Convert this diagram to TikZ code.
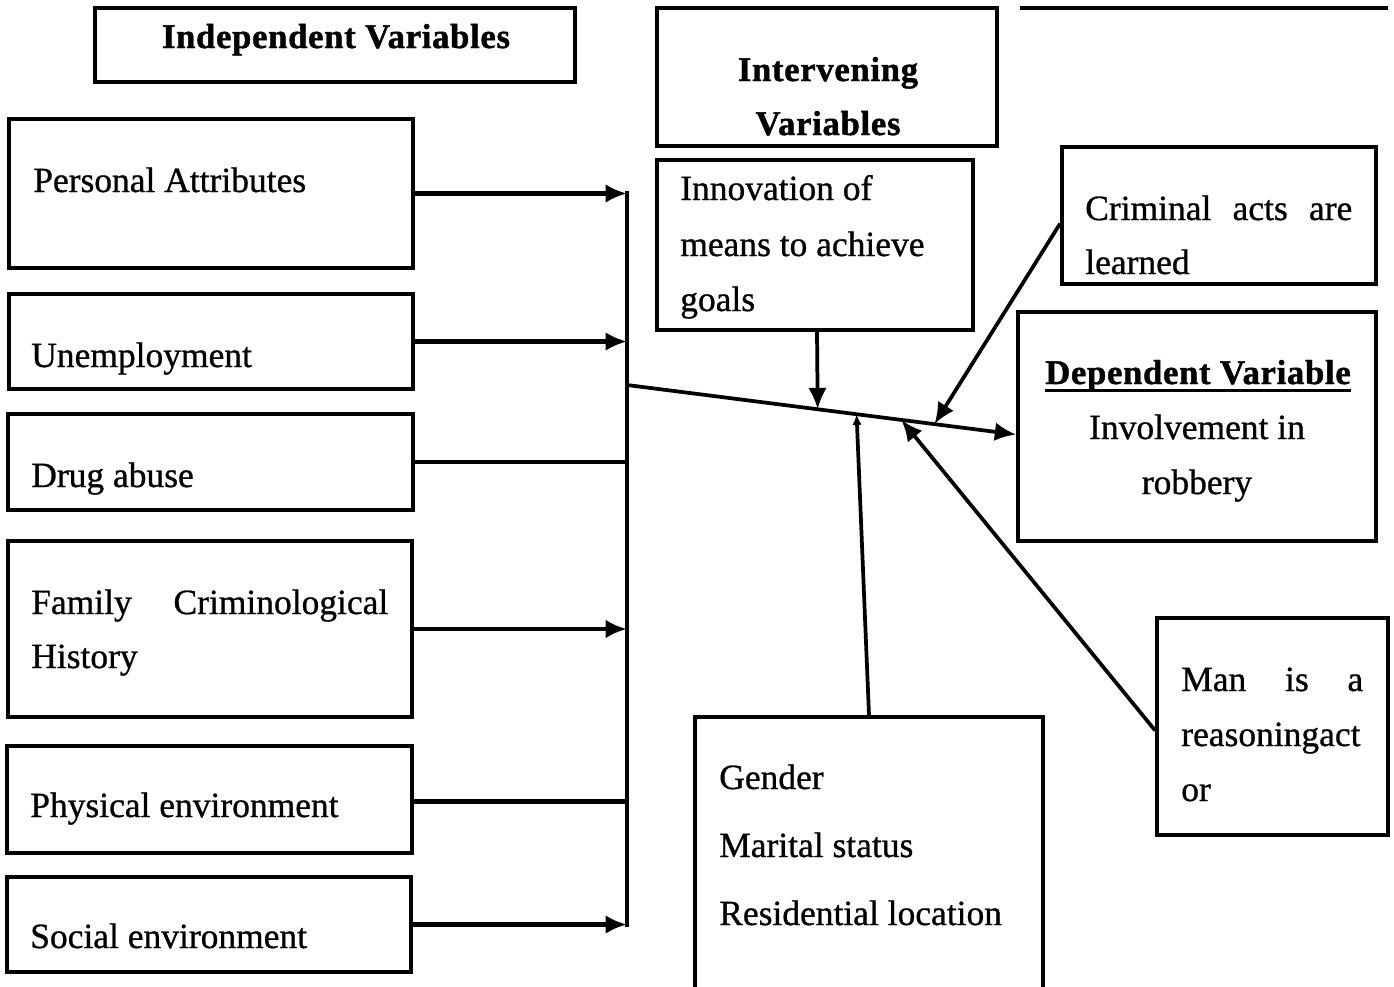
\documentclass[tikz,border=0pt]{standalone}
\usepackage{fontspec}
\setmainfont{Liberation Serif}[FakeBold=0.8]
\newfontfamily\hdfont{Liberation Serif}[FakeBold=1.2, LetterSpace=2]
\usetikzlibrary{arrows.meta,calc,fit}
\begin{document}
\begin{tikzpicture}[x=0.75pt,y=-0.75pt,
  box/.style={draw,line width=2.8pt,rectangle,inner sep=0pt},
  txt/.style={anchor=base west,inner sep=0pt,font=\fontsize{26.6}{32}\selectfont},
  ctxt/.style={anchor=base,inner sep=0pt,font=\fontsize{26.6}{32}\selectfont},
  hd/.style={anchor=base,inner sep=0pt,font=\hdfont\fontsize{26}{32}\selectfont\bfseries},
  conn/.style={line width=3.2pt,-{Latex[length=16pt,width=14pt]}},
  plain/.style={line width=3.2pt},
  ]
\useasboundingbox (0,0) rectangle (1394,986);

% boxes
\node[box,fit={(95,8) (575,82)}] (indH) {};
\node[box,fit={(657,8) (997,146)}] (intH) {};
\node[box,fit={(9,119) (413,268)}] (pa) {};
\node[box,fit={(9,294) (413,389)}] (un) {};
\node[box,fit={(8,414) (413,510)}] (da) {};
\node[box,fit={(8,541) (412,717)}] (fc) {};
\node[box,fit={(7,746) (412,853)}] (pe) {};
\node[box,fit={(7,877) (411,972)}] (se) {};
\node[box,fit={(657,160) (973,330)}] (inn) {};
\node[box,fit={(1062,147) (1376,284)}] (cr) {};
\node[box,fit={(1018,312) (1376,541)}] (dep) {};
\node[box,fit={(1157,618) (1388,835)}] (man) {};
\node[box,fit={(695,717) (1043,994)}] (gen) {};
\draw[line width=3pt] (1020,8) coordinate (tl) -- (1388,8) coordinate (tr);

% texts
\node[hd] (indT) at (336,48) {Independent Variables};
\node[hd] (intT1) at (828,81) {Intervening};
\node[hd] (intT2) at (828,135) {Variables};
\node[txt] (paT) at (33,192) {Personal Attributes};
\node[txt] (unT) at (31,367) {Unemployment};
\node[txt] (daT) at (31,487) {Drug abuse};
\node[txt] (fcT1) at (31,614) {\makebox[267.75pt][s]{Family Criminological}};
\node[txt] (fcT2) at (31,668) {History};
\node[txt] (peT) at (30,817) {Physical environment};
\node[txt] (seT) at (30,948) {Social environment};
\node[txt] (innT1) at (680,200) {Innovation of};
\node[txt] (innT2) at (680,256) {means to achieve};
\node[txt] (innT3) at (680,311) {goals};
\node[txt] (crT1) at (1085,220) {\makebox[200.25pt][s]{Criminal acts are}};
\node[txt] (crT2) at (1085,274) {learned};
\node[hd] (depT1) at (1198,384) {Dependent Variable};
\draw[line width=2pt] ([yshift=-5pt]depT1.base west) -- ([yshift=-5pt]depT1.base east);
\node[ctxt] (depT2) at (1197,439) {Involvement in};
\node[ctxt] (depT3) at (1197,494) {robbery};
\node[txt] (manT1) at (1181,691) {\makebox[136.5pt][s]{Man is a}};
\node[txt] (manT2) at (1181,746) {reasoningact};
\node[txt] (manT3) at (1181,801) {or};
\node[txt] (genT1) at (719,789) {Gender};
\node[txt] (genT2) at (719,857) {Marital status};
\node[txt] (genT3) at (719,925) {Residential location};

% collecting bar
\coordinate (bartop) at (627,191);
\coordinate (barbot) at (627,927);
\coordinate (hub) at (627,385);
\draw[plain] (bartop) -- (barbot);

\draw[conn] (pa.east) -- (pa.east -| bartop);
\draw[conn] (un.east) -- (un.east -| bartop);
\draw[plain] (da.east) -- (da.east -| bartop);
\draw[conn] (fc.east) -- (fc.east -| bartop);
\draw[plain] ([yshift=-1.5pt]pe.east) -- ([yshift=-1.5pt]pe.east -| bartop);
\draw[conn] (se.east) -- (se.east -| bartop);

% main line
\coordinate (depw) at ([yshift=-6pt]dep.west);
\draw[conn,line width=2.8pt] (hub) -- (depw);
\coordinate (j1) at ($(hub)!0.49!(depw)$);
\coordinate (j2) at ($(hub)!0.59!(depw)$);
\coordinate (j3) at ($(hub)!0.705!(depw)$);
\coordinate (j4) at ($(hub)!0.79!(depw)$);

\draw[conn,line width=2.8pt] ([xshift=1.5pt]inn.south) -- (j1);
\draw[conn,line width=2.8pt,-{Latex[length=8pt,width=7pt]}] (gen.north) -- (j2);
\draw[conn,line width=2.8pt] ([yshift=-3pt]man.west) -- (j3);
\draw[conn,line width=2.8pt] ([yshift=-6pt]cr.west) -- (j4);
\end{tikzpicture}
\end{document}
